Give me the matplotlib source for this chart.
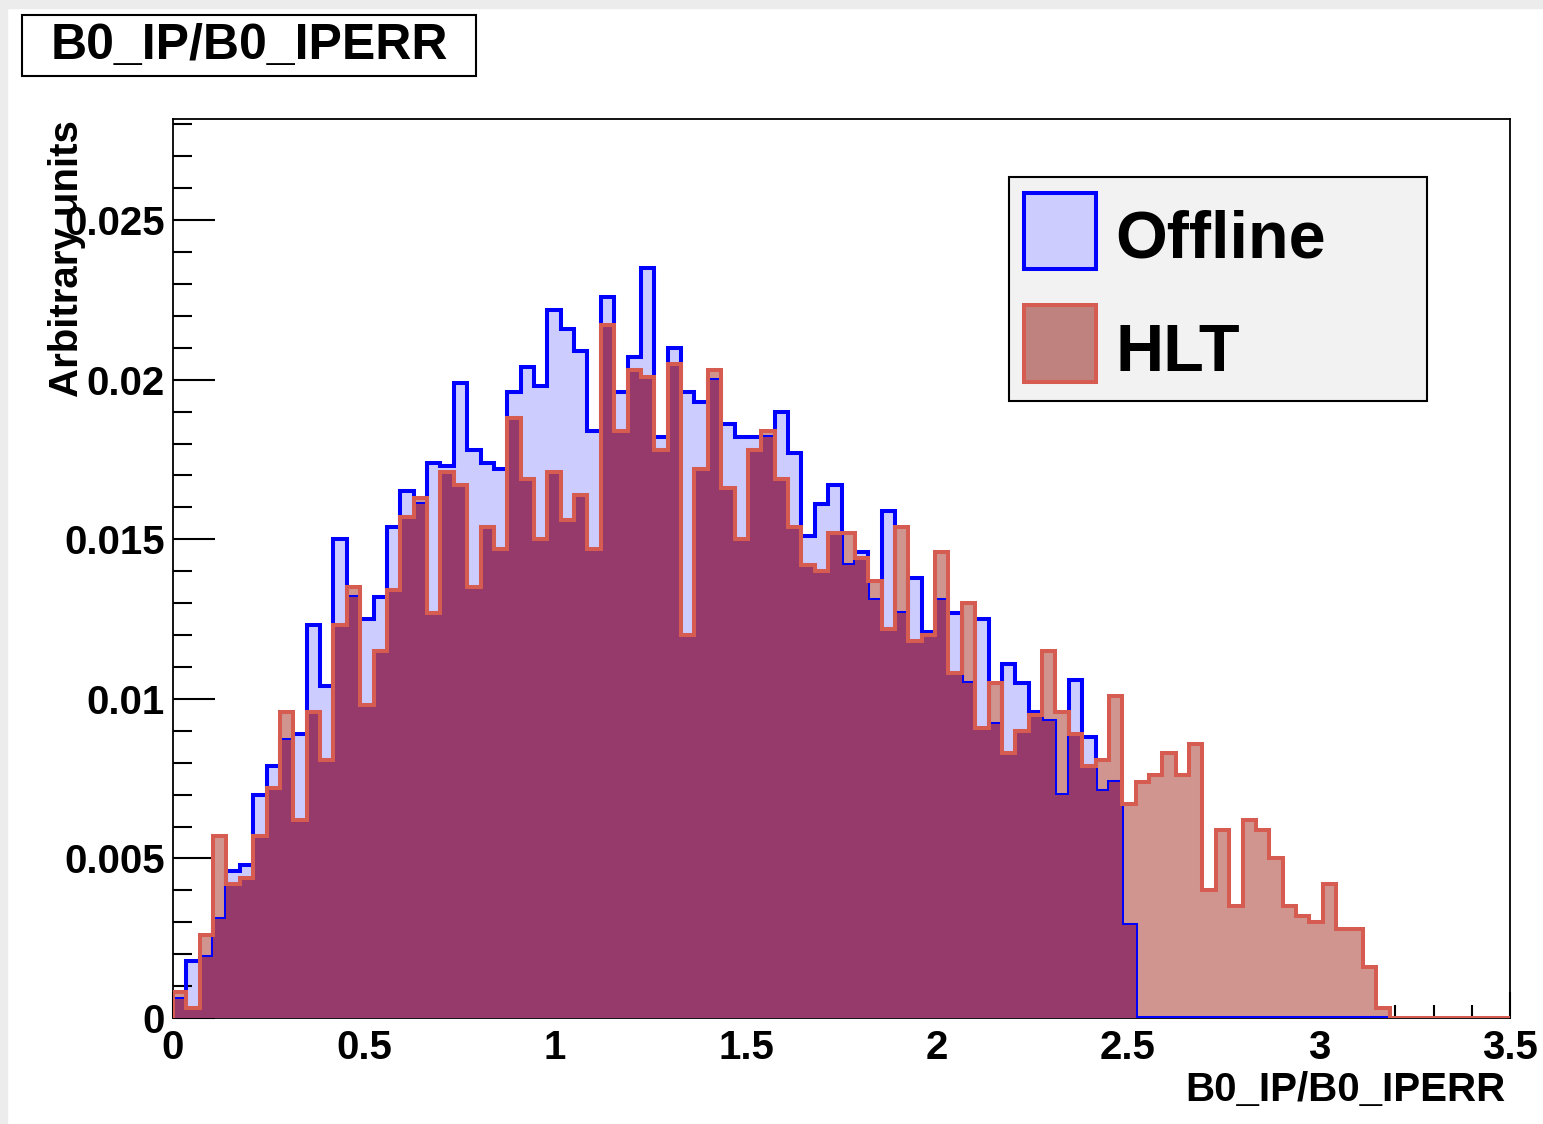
import matplotlib
matplotlib.use("Agg")
import matplotlib.pyplot as plt
from matplotlib.patches import Rectangle
from matplotlib.ticker import MultipleLocator, FixedLocator, FixedFormatter
import numpy as np

plt.rcParams['font.family'] = ['Liberation Sans', 'DejaVu Sans']
plt.rcParams['font.weight'] = 'bold'

# 100 bins of width 0.035 between 0 and 3.5
n_bins = 100
x_lo, x_hi = 0.0, 3.5

# Offline histogram (bins 0..90)
offline = [0.0006, 0.0018, 0.0019, 0.0031, 0.0046, 0.0048, 0.0070, 0.0079, 0.0087, 0.0089,
           0.0123, 0.0104, 0.0150, 0.0132, 0.0125, 0.0132, 0.0154, 0.0165, 0.0161, 0.0174,
           0.0173, 0.0199, 0.0178, 0.0174, 0.0172, 0.0196, 0.0204, 0.0198, 0.0222, 0.0216,
           0.0209, 0.0184, 0.0226, 0.0196, 0.0207, 0.0235, 0.0182, 0.0210, 0.0196, 0.0193,
           0.0200, 0.0186, 0.0182, 0.0182, 0.0182, 0.0190, 0.0177, 0.0151, 0.0161, 0.0167,
           0.0142, 0.0146, 0.0131, 0.0159, 0.0127, 0.0138, 0.0121, 0.0131, 0.0127, 0.0105,
           0.0125, 0.0092, 0.0111, 0.0105, 0.0096, 0.0093, 0.0070, 0.0106, 0.0088, 0.0071,
           0.0074, 0.0029, 0.0, 0.0, 0.0, 0.0, 0.0, 0.0, 0.0, 0.0,
           0.0, 0.0, 0.0, 0.0, 0.0, 0.0, 0.0, 0.0, 0.0, 0.0,
           0.0]

# HLT histogram (all 100 bins)
hlt = [0.0008, 0.0003, 0.0026, 0.0057, 0.0042, 0.0044, 0.0057, 0.0072, 0.0096, 0.0062,
       0.0096, 0.0081, 0.0123, 0.0135, 0.0098, 0.0115, 0.0134, 0.0157, 0.0163, 0.0127,
       0.0171, 0.0167, 0.0135, 0.0154, 0.0147, 0.0188, 0.0169, 0.0150, 0.0171, 0.0156,
       0.0164, 0.0147, 0.0217, 0.0184, 0.0203, 0.0201, 0.0178, 0.0205, 0.0120, 0.0172,
       0.0203, 0.0166, 0.0150, 0.0178, 0.0184, 0.0169, 0.0154, 0.0142, 0.0140, 0.0152,
       0.0152, 0.0144, 0.0137, 0.0122, 0.0154, 0.0118, 0.0120, 0.0146, 0.0108, 0.0130,
       0.0091, 0.0105, 0.0083, 0.0090, 0.0095, 0.0115, 0.0096, 0.0089, 0.0079, 0.0081,
       0.0101, 0.0067, 0.0074, 0.0076, 0.0083, 0.0076, 0.0086, 0.0040, 0.0059, 0.0035,
       0.0062, 0.0059, 0.0050, 0.0035, 0.0032, 0.0030, 0.0042, 0.0028, 0.0028, 0.0016,
       0.0003, 0.0, 0.0, 0.0, 0.0, 0.0, 0.0, 0.0, 0.0, 0.0]

y_tick_vals = [0, 0.005, 0.01, 0.015, 0.02, 0.025]
y_tick_labels = ['0', '0.005', '0.01', '0.015', '0.02', '0.025']
x_tick_vals = [0, 0.5, 1, 1.5, 2, 2.5, 3, 3.5]
x_tick_labels = ['0', '0.5', '1', '1.5', '2', '2.5', '3', '3.5']

W, H = 1543, 1124
def fx(x):
    return x / W
def fy(y):
    return 1 - y / H

edges = np.linspace(x_lo, x_hi, n_bins + 1)
offline = np.array(offline)
hlt = np.array(hlt)
off_edges = edges[:len(offline) + 1]
overlap = np.minimum(np.append(offline, np.zeros(n_bins - len(offline))), hlt)

fig = plt.figure(figsize=(W / 100, H / 100), dpi=100)
fig.patch.set_facecolor('white')
# grey screenshot margin
fig.add_artist(Rectangle((0, fy(8)), 1, 1 - fy(8), transform=fig.transFigure, color='#ececec', zorder=-5))
fig.add_artist(Rectangle((0, 0), fx(7), 1, transform=fig.transFigure, color='#ececec', zorder=-5))

ax = fig.add_axes([fx(173), fy(1018), fx(1510) - fx(173), fy(119) - fy(1018)])

blue_fill = '#ccccff'
tail_fill = '#cf958e'
over_fill = '#963a6b'
red_line = '#d65c52'

ax.stairs(offline, off_edges, fill=True, color=blue_fill, zorder=1)
ax.stairs(hlt, edges, fill=True, color=tail_fill, zorder=3)
ax.stairs(offline, off_edges, baseline=0, color='#0000ff', lw=2.9, zorder=3.5)
ax.stairs(overlap, edges, fill=True, color=over_fill, zorder=4)
ax.stairs(hlt, edges, baseline=0, color=red_line, lw=2.9, zorder=7)

ax.set_xlim(x_lo, x_hi)
ax.set_ylim(0, 0.02817)

ax.xaxis.set_major_locator(FixedLocator(x_tick_vals))
ax.xaxis.set_major_formatter(FixedFormatter(x_tick_labels))
ax.xaxis.set_minor_locator(MultipleLocator(0.1))
ax.yaxis.set_major_locator(FixedLocator(y_tick_vals))
ax.yaxis.set_major_formatter(FixedFormatter(y_tick_labels))
ax.yaxis.set_minor_locator(MultipleLocator(0.001))

ax.tick_params(axis='x', which='major', direction='in', length=19, width=1.5, labelsize=29, pad=8)
ax.tick_params(axis='x', which='minor', direction='in', length=9.5, width=1.5)
ax.tick_params(axis='y', which='major', direction='in', length=30, width=1.5, labelsize=29, pad=6)
ax.tick_params(axis='y', which='minor', direction='in', length=14, width=1.5)
for lab in ax.get_xticklabels() + ax.get_yticklabels():
    lab.set_fontweight('bold')
for sp in ax.spines.values():
    sp.set_linewidth(1.3)
    sp.set_zorder(6)
ax.spines['bottom'].set_zorder(3.2)

# axis titles
fig.text(fx(1505), fy(1090), 'B0_IP/B0_IPERR', ha='right', va='center', fontsize=29, fontweight='bold')
fig.text(fx(67), fy(120), 'Arbitrary units', rotation=90, ha='center', va='top', fontsize=29, fontweight='bold')

# title box
fig.add_artist(Rectangle((fx(22), fy(76)), fx(476) - fx(22), fy(15) - fy(76), transform=fig.transFigure,
                         facecolor='white', edgecolor='black', lw=1.5))
fig.text(fx(249), fy(46), 'B0_IP/B0_IPERR', ha='center', va='center', fontsize=36, fontweight='bold')

# legend
fig.add_artist(Rectangle((fx(1009), fy(401)), fx(1427) - fx(1009), fy(177) - fy(401), transform=fig.transFigure,
                         facecolor='#f2f2f2', edgecolor='black', lw=1.5, zorder=10))
fig.add_artist(Rectangle((fx(1024), fy(269)), fx(1096) - fx(1024), fy(193) - fy(269), transform=fig.transFigure,
                         facecolor=blue_fill, edgecolor='#0000ff', lw=2.9, zorder=11))
fig.add_artist(Rectangle((fx(1024), fy(382)), fx(1096) - fx(1024), fy(305) - fy(382), transform=fig.transFigure,
                         facecolor='#c0827e', edgecolor=red_line, lw=2.9, zorder=11))
fig.text(fx(1115), fy(240), 'Offline', ha='left', va='center', fontsize=48, fontweight='bold', zorder=12)
fig.text(fx(1115), fy(354), 'HLT', ha='left', va='center', fontsize=48, fontweight='bold', zorder=12)

fig.savefig('out.png', dpi=100, facecolor=fig.get_facecolor())
